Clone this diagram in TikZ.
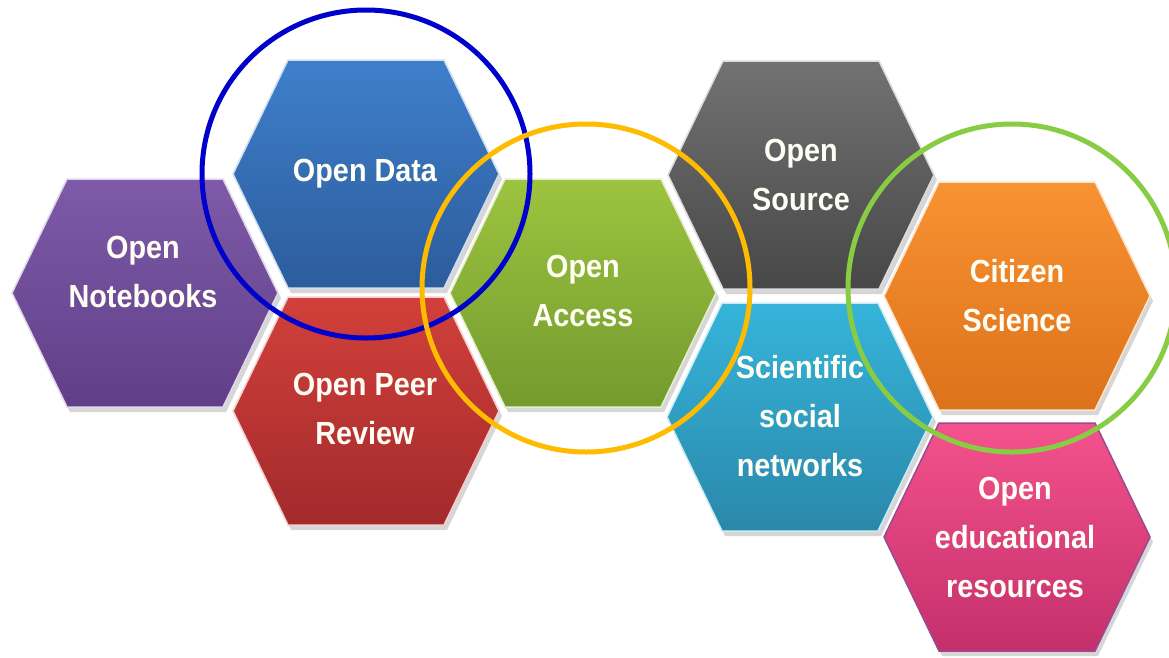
\documentclass[tikz,border=0pt]{standalone}
\usepackage{fontspec}
\setmainfont{Liberation Sans}[FakeStretch=0.9]
\definecolor{nbT}{HTML}{7E5AA8}\definecolor{nbB}{HTML}{603F88}
\definecolor{odT}{HTML}{3F7FCB}\definecolor{odB}{HTML}{2C5C9C}
\definecolor{prT}{HTML}{D2403A}\definecolor{prB}{HTML}{A22A2C}
\definecolor{oaT}{HTML}{9CC43F}\definecolor{oaB}{HTML}{749A2E}
\definecolor{osT}{HTML}{727272}\definecolor{osB}{HTML}{474747}
\definecolor{snT}{HTML}{36B4DA}\definecolor{snB}{HTML}{2A88AA}
\definecolor{csT}{HTML}{F89232}\definecolor{csB}{HTML}{DC721A}
\definecolor{oeT}{HTML}{F4528C}\definecolor{oeB}{HTML}{C4306C}
\definecolor{oeE}{HTML}{9A4A8E}
\definecolor{ringblue}{HTML}{0000CC}
\definecolor{ringorange}{HTML}{FFBB00}
\definecolor{ringgreen}{HTML}{88CC44}
\newcommand\hexcell[5]{%
  \fill[black,opacity=0.16] ({#1-133+3},{#2+5}) -- ({#1-78+3},{#2-114+5}) -- ({#1+78+3},{#2-114+5}) -- ({#1+133+3},{#2+5}) -- ({#1+78+3},{#2+114+5}) -- ({#1-78+3},{#2+114+5}) -- cycle;
  \shade[top color=#3,bottom color=#4,draw=#5,line width=1.5pt] ({#1-133},{#2}) -- ({#1-78},{#2-114}) -- ({#1+78},{#2-114}) -- ({#1+133},{#2}) -- ({#1+78},{#2+114}) -- ({#1-78},{#2+114}) -- cycle;
}
\tikzset{
  hextext/.style={text=white!96!yellow,font=\bfseries\fontsize{32}{49}\selectfont,align=center,inner sep=0pt},
  ring/.style={circle,draw=#1,line width=5pt,minimum size=328pt,inner sep=0pt}
}
\begin{document}
\begin{tikzpicture}[x=1pt,y=-1pt]
\useasboundingbox (0,0) rectangle (1169,657);
\fill[white] (0,0) rectangle (1169,657);
% hexagons
\hexcell{145}{293}{nbT}{nbB}{white!75!nbT}
\hexcell{366}{174}{odT}{odB}{white!75!odT}
\hexcell{366}{411}{prT}{prB}{white!75!prT}
\hexcell{583}{293}{oaT}{oaB}{white!75!oaT}
\hexcell{801}{175}{osT}{osB}{white!75!osT}
\hexcell{800}{417}{snT}{snB}{white!75!snT}
\hexcell{1017}{296}{csT}{csB}{white!75!csT}
\hexcell{1017}{537}{oeT}{oeB}{oeE}
% labels
\node[hextext] (nb) at (143,272) {Open\\Notebooks};
\node[hextext] (od) at (365,174) {Open Data};
\node[hextext] (pr) at (365,409) {Open Peer\\Review};
\node[hextext] (oa) at (583,291) {Open\\Access};
\node[hextext] (os) at (801,175) {Open\\Source};
\node[hextext] (sn) at (800,416) {Scientific\\social\\networks};
\node[hextext] (cs) at (1017,296) {Citizen\\Science};
\node[hextext] (oe) at (1015,537) {Open\\educational\\resources};
% rings
\node[ring=ringblue] (r1) at (366,174) {};
\node[ring=ringorange] (r2) at (586,288) {};
\node[ring=ringgreen] (r3) at (1012,288) {};
\end{tikzpicture}
\end{document}
